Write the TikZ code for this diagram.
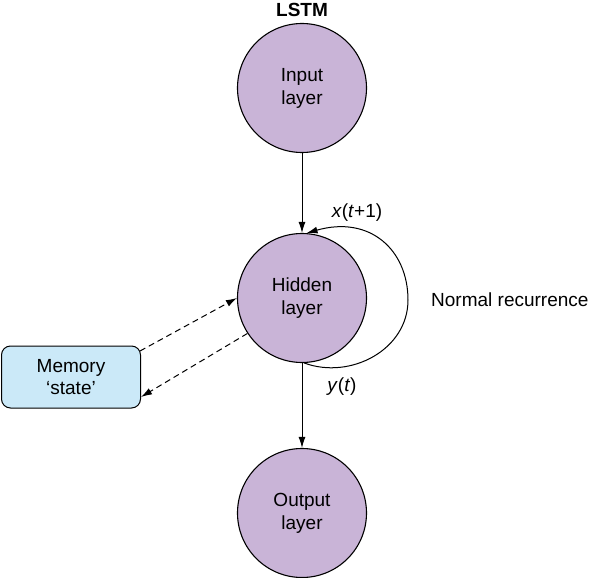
\documentclass[tikz,border=0pt]{standalone}
\usepackage{fontspec}
\setmainfont{Liberation Sans}
\usetikzlibrary{arrows.meta,calc}
\definecolor{lav}{HTML}{C9B4D7}
\definecolor{memblue}{HTML}{CBE9F8}
\begin{document}
\begin{tikzpicture}[x=1pt,y=-1pt,
  layer/.style={circle,draw=black,line width=1.1pt,fill=lav,minimum size=129pt,inner sep=0pt,align=center,font=\fontsize{19}{23}\selectfont},
  conn/.style={line width=1pt,-{Latex[length=11pt,width=7pt]}},
  dconn/.style={line width=1pt,dash pattern=on 6pt off 4pt,-{Latex[length=11pt,width=7pt]}},
  lbl/.style={font=\fontsize{19}{23}\selectfont,inner sep=0pt}]
\useasboundingbox (0,0) rectangle (590,578);
\node[lbl,font=\fontsize{19}{23}\selectfont\bfseries] (title) at (302,10) {LSTM};
\node[layer] (i) at (302,88) {Input\\layer};
\node[layer] (h) at (302,298) {Hidden\\layer};
\node[layer] (o) at (302,513) {Output\\layer};
\node[draw=black,line width=1pt,fill=memblue,rounded corners=9pt,minimum width=139pt,minimum height=62pt,inner sep=0pt,align=center,font=\fontsize{19}{22}\selectfont] (m) at (71,377) {Memory\\`state'};
\draw[conn] (i.south) -- (h.north);
\draw[conn] (h.south) -- (o.north);
\coordinate (mu) at (140,351);
\coordinate (ml) at (141,397);
\draw[dconn] (mu) -- (h.west);
\draw[dconn] (h.213) -- (ml);
\draw[conn] (h.-88) .. controls (350,380) and (408,350) .. (408,300)
  .. controls (408,250) and (370,215) .. (h.86);
\node[lbl] (x) at (357,213) {\textit{x}(\textit{t}+1)};
\node[lbl] (y) at (342,387) {\textit{y}(\textit{t})};
\node[lbl,anchor=west] (nr) at (431,300) {Normal recurrence};
\end{tikzpicture}
\end{document}
